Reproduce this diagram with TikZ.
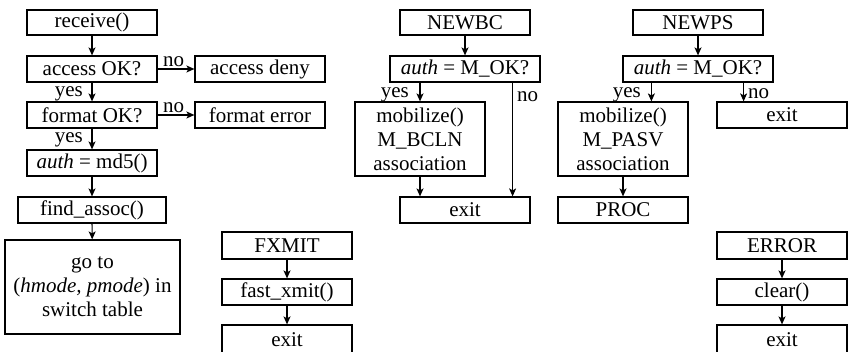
\documentclass[tikz,border=0pt]{standalone}
\usepackage{fontspec}
\setmainfont{Liberation Serif}
\usetikzlibrary{arrows.meta}
\begin{document}
\begin{tikzpicture}[x=1pt,y=-1pt,
  box/.style={draw, line width=1.2pt, inner sep=0pt, align=center,
    font=\fontsize{21}{24}\selectfont},
  lbl/.style={inner sep=0pt, font=\fontsize{21}{24}\selectfont},
  arr/.style={line width=1.2pt, -{Stealth[length=8pt,width=7pt,inset=2pt]}}]
\useasboundingbox (0,0) rectangle (853,352);

% receive path
\node[box, minimum width=130, minimum height=25] (recv)    at (92,22.5) {receive()};
\node[box, minimum width=130, minimum height=26] (access)  at (92,69)   {access OK?};
\node[box, minimum width=130, minimum height=26] (accdeny) at (260,69)  {access deny};
\node[box, minimum width=130, minimum height=26] (format)  at (92,115)  {format OK?};
\node[box, minimum width=130, minimum height=26] (fmterr)  at (260,115) {format error};
\node[box, minimum width=130, minimum height=26] (md5)     at (92,163)  {\textit{auth} = md5()};
\node[box, minimum width=148, minimum height=26] (find)    at (92,210)  {find\_assoc()};
\node[box, minimum width=175, minimum height=94] (goto)    at (92.5,287)
  {go to\\(\textit{hmode, pmode}) in\\switch table};

% FXMIT
\node[box, minimum width=130, minimum height=27] (fxmit) at (287,245.5) {FXMIT};
\node[box, minimum width=130, minimum height=26] (fast)  at (287,292)   {fast\_xmit()};
\node[box, minimum width=130, minimum height=29] (fexit) at (287,339.5) {exit};

% NEWBC
\node[box, minimum width=130, minimum height=25] (newbc)  at (465,22.5) {NEWBC};
\node[box, minimum width=150, minimum height=26] (authbc) at (465,69)   {\textit{auth} = M\_OK?};
\node[box, minimum width=130, minimum height=74] (mobbc)  at (420,139)  {mobilize()\\M\_BCLN\\association};
\node[box, minimum width=130, minimum height=26] (exitbc) at (465,210)  {exit};

% NEWPS
\node[box, minimum width=130, minimum height=25] (newps)  at (698,22.5) {NEWPS};
\node[box, minimum width=150, minimum height=26] (authps) at (698,69)   {\textit{auth} = M\_OK?};
\node[box, minimum width=130, minimum height=74] (mobps)  at (623,139)  {mobilize()\\M\_PASV\\association};
\node[box, minimum width=130, minimum height=26] (exitps) at (782,115)  {exit};
\node[box, minimum width=130, minimum height=26] (proc)   at (623,210)  {PROC};

% ERROR
\node[box, minimum width=130, minimum height=27] (error) at (782,245.5) {ERROR};
\node[box, minimum width=130, minimum height=26] (clear) at (782,292)   {clear()};
\node[box, minimum width=130, minimum height=29] (eexit) at (782,339.5) {exit};

% branch labels
\node[lbl, anchor=south west] (no1)  at (163,67)  {no};
\node[lbl, anchor=east]       (yes1) at (83,94)   {yes};
\node[lbl, anchor=south west] (no2)  at (163,113) {no};
\node[lbl, anchor=east]       (yes2) at (83,140)  {yes};
\node[lbl, anchor=east]       (yes3) at (409,95)  {yes};
\node[lbl, anchor=west]       (no3)  at (517,97)  {no};
\node[lbl, anchor=east]       (yes4) at (641,95)  {yes};
\node[lbl, anchor=west]       (no4)  at (748,94)  {no};

% connectors
\draw[arr] (recv) -- (access);
\draw[arr] (access) -- (accdeny);
\draw[arr] (access) -- (format);
\draw[arr] (format) -- (fmterr);
\draw[arr] (format) -- (md5);
\draw[arr] (md5) -- (find);
\draw[arr] (find) -- (goto);

\draw[arr] (fxmit) -- (fast);
\draw[arr] (fast) -- (fexit);

\draw[arr] (newbc) -- (authbc);
\draw[arr] (authbc.south -| mobbc.north) -- (mobbc.north);
\coordinate (bcno) at ([xshift=-28pt]authbc.south east);
\draw[arr] (bcno) -- (bcno |- exitbc.north);
\draw[arr] (mobbc.south) -- (mobbc.south |- exitbc.north);

\draw[arr] (newps) -- (authps);
\coordinate (psyes) at ([xshift=29pt]authps.south west);
\draw[arr] (psyes) -- (psyes |- mobps.north);
\coordinate (psno) at ([xshift=-30pt]authps.south east);
\draw[arr] (psno) -- (psno |- exitps.north);
\draw[arr] (mobps) -- (proc);

\draw[arr] (error) -- (clear);
\draw[arr] (clear) -- (eexit);
\end{tikzpicture}
\end{document}
